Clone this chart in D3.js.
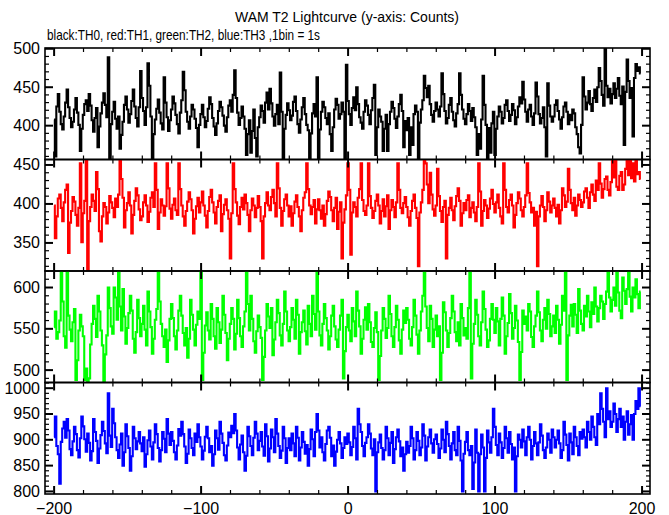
<!DOCTYPE html>
<html><head><meta charset="utf-8">
<script src="https://cdn.jsdelivr.net/npm/d3@7/dist/d3.min.js"></script>
<style>body{margin:0;background:#fff}svg{display:block}text{font-family:"Liberation Sans",Arial,Helvetica,sans-serif;fill:#000}</style>
</head><body><svg id="c" width="669" height="515"></svg>
<script>
const titleText = "WAM T2 Lightcurve (y-axis: Counts)";
const subtitleText = "black:TH0, red:TH1, green:TH2, blue:TH3 ,1bin = 1s";
const binStart = -200;
const xTickLabels = [-200, -100, 0, 100, 200];

const th0 = [
408,360,425,441,418,402,395,412,430,447,424,410,398,405,421,436,417,401,367,396,
414,428,433,419,441,426,407,392,410,423,372,399,416,430,442,427,411,489,358,402,
418,431,409,396,412,370,388,405,427,438,421,404,415,432,447,425,410,399,424,471,
436,419,401,424,481,452,412,358,389,408,422,434,417,403,395,463,430,411,393,407,
421,438,429,414,402,390,417,433,470,446,418,405,396,412,427,421,409,397,372,401,
415,427,411,398,406,422,437,428,410,399,388,403,419,431,424,413,400,392,411,426,
433,418,440,472,436,417,401,410,425,412,396,362,389,407,365,393,421,384,360,398,
411,426,419,404,430,443,421,448,429,412,400,415,427,402,469,418,358,396,414,429,
420,407,413,431,438,419,402,391,408,424,436,415,401,394,358,390,416,428,412,463,
358,395,418,431,424,410,402,416,389,367,398,421,435,427,409,415,430,418,358,479,
432,415,401,423,437,420,450,428,411,404,396,418,433,426,414,402,420,436,453,362,
398,421,412,405,367,396,414,367,402,418,431,423,409,397,412,428,440,419,372,406,
394,410,362,398,375,415,426,418,358,404,421,433,465,449,437,452,428,414,405,419,
430,421,412,425,468,441,419,403,410,427,436,418,407,399,416,428,468,440,421,409,
402,415,428,419,406,423,411,398,362,389,370,408,465,427,401,358,397,365,403,418,
362,396,412,425,418,403,410,427,433,419,406,414,428,420,402,411,425,437,429,457,
434,418,405,421,427,412,401,416,456,438,415,403,410,424,398,360,455,426,412,405,
412,427,433,419,408,396,411,425,430,418,402,414,407,421,416,398,389,372,364,401,
463,438,421,430,445,428,419,436,447,431,450,475,458,440,426,500,452,437,448,429,
441,455,436,448,462,439,428,451,375,444,486,458,436,449,386,462,480,471,476,468];

const th1 = [
398,356,384,407,412,395,378,402,418,425,337,376,391,409,403,386,372,395,452,351,
388,404,455,315,378,396,412,404,391,441,419,365,352,384,401,396,375,389,410,402,
395,383,407,396,412,455,432,408,370,392,401,415,398,362,386,404,420,411,393,379,
384,402,411,398,377,390,408,415,396,452,418,368,389,406,398,385,397,452,420,394,
381,399,407,392,386,452,419,398,384,372,391,403,415,406,392,362,381,397,408,389,
402,416,398,385,370,391,409,418,402,389,375,396,404,411,365,387,399,406,392,381,
330,388,452,419,402,385,374,396,408,393,412,401,386,365,392,407,398,383,395,410,
396,378,330,384,401,415,398,392,409,418,401,384,452,420,395,372,391,406,412,398,
384,397,372,388,403,411,396,384,365,392,408,415,452,419,398,387,396,405,375,393,
406,392,381,398,372,387,404,416,409,392,378,395,408,368,390,402,330,376,393,411,
452,418,335,389,402,396,384,408,419,452,405,391,386,398,452,410,395,382,391,404,
412,398,375,391,406,384,397,411,368,392,405,396,383,402,452,418,395,388,401,409,
396,383,372,391,404,412,395,382,320,389,402,418,455,452,425,401,440,412,393,385,
398,445,410,391,377,396,404,330,386,395,408,392,379,397,410,420,404,372,388,401,
392,405,411,383,395,402,389,378,396,452,416,372,391,405,398,382,394,407,418,400,
389,402,412,395,384,375,452,418,396,389,405,412,398,370,386,401,415,407,392,384,
396,411,452,414,402,389,395,372,390,320,384,398,410,396,378,392,415,403,389,398,
407,395,384,399,375,392,420,411,396,403,445,418,401,392,408,385,398,412,405,396,
402,416,420,408,395,415,425,412,404,430,418,452,426,408,419,432,435,418,411,428,
455,434,455,422,418,436,441,418,425,445,455,437,456,433,452,429,455,438,441,432];

const th2 = [
552,571,538,546,560,620,583,541,527,620,566,549,535,558,574,488,512,548,567,553,
541,488,502,486,490,531,556,578,562,540,590,571,548,530,486,519,542,600,575,553,
544,600,588,561,620,577,548,598,565,532,551,569,590,572,538,521,546,585,563,541,
556,578,549,530,595,571,552,520,538,561,574,620,583,556,541,528,549,510,536,562,
580,563,541,525,548,572,590,566,545,530,551,515,538,585,567,549,530,555,571,562,
620,488,521,554,570,548,537,580,562,541,526,575,558,533,549,590,567,545,512,538,
556,575,562,525,544,585,563,541,528,553,571,620,580,548,590,562,535,521,547,566,
552,539,488,516,548,580,565,551,575,518,537,558,585,569,542,530,556,595,571,548,
535,552,575,561,538,585,567,520,546,558,572,547,531,578,556,541,590,568,549,620,
571,542,530,556,580,563,548,525,541,566,578,553,537,528,549,566,585,490,523,552,
567,548,535,575,559,541,595,572,553,520,538,561,576,549,580,558,534,528,551,570,
546,488,517,548,575,562,539,551,590,568,541,528,552,578,561,536,520,549,572,557,
575,561,538,530,552,585,566,543,520,548,571,590,620,577,551,535,578,562,528,549,
566,541,553,488,521,582,570,548,528,545,563,590,571,546,535,558,530,580,563,542,
551,538,575,620,490,532,556,585,567,541,530,558,595,574,549,528,536,562,580,561,
545,575,559,530,562,588,566,520,541,557,592,569,538,551,578,560,534,488,522,572,
556,565,548,580,571,540,528,553,566,595,570,548,535,561,575,550,585,568,541,553,
566,545,578,561,532,555,590,572,620,488,542,566,579,553,580,567,545,598,572,556,
548,578,565,590,571,552,582,568,600,577,559,575,590,583,562,580,595,620,588,571,
585,600,578,620,594,572,563,612,596,580,598,620,589,571,600,588,610,592,575,595];

const th3 = [
905,945,888,872,815,896,922,935,904,940,918,882,870,897,925,911,880,866,903,945,
926,901,877,912,894,860,878,940,915,898,855,883,909,935,917,893,874,990,908,886,
960,932,905,880,865,891,912,850,876,930,907,884,840,868,925,903,882,897,915,893,
878,905,848,872,899,918,887,862,895,930,911,884,858,880,915,902,876,940,912,890,
915,898,876,862,889,921,908,935,911,887,855,873,920,903,884,870,912,896,930,905,
887,862,879,906,925,903,876,888,850,872,918,903,881,935,912,894,870,860,889,914,
905,927,913,950,918,885,862,891,908,876,840,869,925,907,888,870,904,935,912,880,
898,915,887,869,930,907,858,883,920,905,876,940,912,888,865,879,925,903,855,884,
903,880,912,893,868,925,904,860,885,915,896,873,890,850,882,920,901,868,915,950,
918,885,905,876,860,892,918,925,904,868,889,850,877,900,915,893,865,884,905,892,
912,895,870,886,925,903,862,960,930,915,888,868,894,905,930,912,883,870,901,800,
876,895,910,884,862,880,925,903,870,894,915,855,882,905,920,897,868,885,840,872,
896,875,888,925,903,862,880,915,898,870,885,930,908,860,887,905,920,893,875,901,
910,892,865,883,920,900,876,935,911,888,862,893,915,880,870,925,898,860,800,873,
896,915,880,870,888,805,856,920,875,800,872,910,885,800,865,918,895,875,905,960,
925,890,870,912,895,865,884,925,903,875,915,892,862,885,800,868,910,900,885,920,
897,870,905,925,900,862,888,915,893,870,895,930,908,880,865,885,912,900,875,920,
905,885,900,918,893,865,880,935,910,890,860,912,895,872,925,905,888,870,915,902,
920,905,885,935,915,900,945,925,905,890,950,930,990,960,935,905,1000,940,955,925,
935,970,950,915,940,960,925,945,900,935,955,910,930,948,900,950,975,960,1000,965];

const series = [th0, th1, th2, th3];
const colors = ["#000000", "#ff0000", "#00ff00", "#0000ff"];
const yDomains = [[356, 501], [314, 457], [485, 620], [795, 1011]];
const yTickLabels = [[400, 450, 500], [350, 400, 450], [500, 550, 600], [800, 850, 900, 950, 1000]];

const svg = d3.select("#c");
const L = 45, R = 650, T = 48, PH = 111.5;
const x = d3.scaleLinear().domain([-206.2, 205.4]).range([L, R]);

svg.append("text").attr("x", 347).attr("y", 22).attr("text-anchor", "middle")
  .attr("font-size", 14).text(titleText);
svg.append("text").attr("x", 47).attr("y", 40).attr("font-size", 14.5)
  .attr("textLength", 273).attr("lengthAdjust", "spacingAndGlyphs").text(subtitleText);

const xMajor = d3.range(-200, 201, 100);
const xMinor = d3.range(-200, 201, 20).filter(v => v % 100 !== 0);

series.forEach((vals, k) => {
  const top = T + k * PH, bot = top + PH;
  const y = d3.scaleLinear().domain(yDomains[k]).range([bot, top]);
  const g = svg.append("g");
  const cid = "clip" + k;
  svg.append("clipPath").attr("id", cid).append("rect")
    .attr("x", L).attr("y", top).attr("width", R - L).attr("height", PH);
  const line = d3.line().x((d, i) => x(binStart + i)).y(d => y(d)).curve(d3.curveStep);
  g.append("path").datum(vals).attr("clip-path", `url(#${cid})`)
    .attr("fill", "none").attr("stroke", colors[k]).attr("stroke-width", 2.1)
    .attr("d", line);
  g.append("rect").attr("x", L).attr("y", top).attr("width", R - L).attr("height", PH)
    .attr("fill", "none").attr("stroke", "#000").attr("stroke-width", 1.6);
  const [d0, d1] = yDomains[k];
  const minor = d3.range(Math.ceil(d0 / 10) * 10, d1 + 0.001, 10);
  minor.forEach(v => {
    const major = v % 50 === 0;
    const len = major ? 8 : 4;
    const yy = y(v);
    g.append("line").attr("x1", L).attr("x2", L + len).attr("y1", yy).attr("y2", yy)
      .attr("stroke", "#000").attr("stroke-width", major ? 2 : 1.2);
    g.append("line").attr("x1", R).attr("x2", R - len).attr("y1", yy).attr("y2", yy)
      .attr("stroke", "#000").attr("stroke-width", major ? 2 : 1.2);
  });
  yTickLabels[k].forEach(v => {
    g.append("text").attr("x", 40).attr("y", y(v)).attr("text-anchor", "end")
      .attr("dominant-baseline", "central").attr("font-size", 16).text(v);
  });
  xMajor.concat(xMinor).forEach(v => {
    const major = v % 100 === 0;
    const len = major ? 8 : 4;
    const xx = x(v);
    g.append("line").attr("x1", xx).attr("x2", xx).attr("y1", top).attr("y2", top + len)
      .attr("stroke", "#000").attr("stroke-width", major ? 2 : 1.2);
    g.append("line").attr("x1", xx).attr("x2", xx).attr("y1", bot).attr("y2", bot - len)
      .attr("stroke", "#000").attr("stroke-width", major ? 2 : 1.2);
  });
});

const xAxisY = T + 4 * PH;
xTickLabels.forEach(v => {
  svg.append("text").attr("x", x(v)).attr("y", xAxisY + 14).attr("text-anchor", "middle")
    .attr("dominant-baseline", "central").attr("font-size", 16)
    .text(v < 0 ? "\u2212" + Math.abs(v) : String(v));
});
</script></body></html>
